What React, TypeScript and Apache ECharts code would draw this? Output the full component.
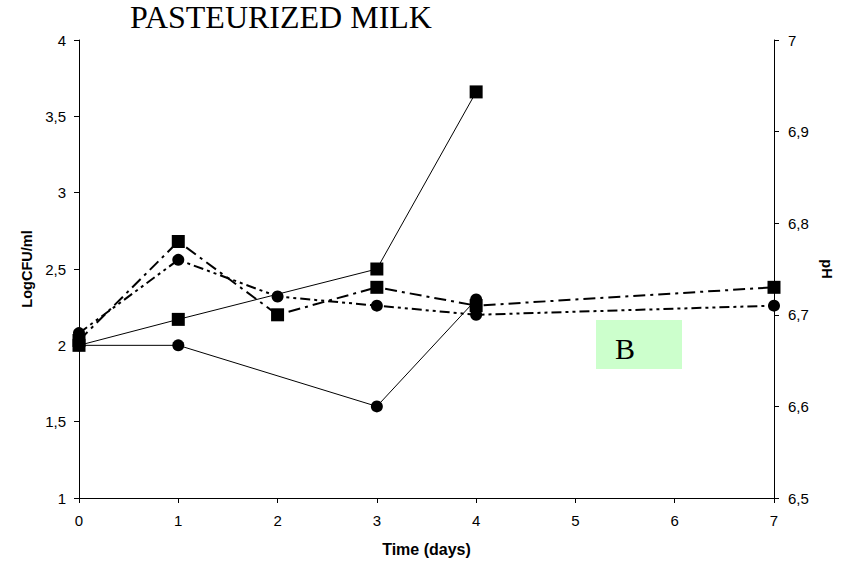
import React, { useEffect, useRef } from "react";
import * as echarts from "echarts";

// Microbial counts (LogCFU/ml) on the left axis
const countDays = [0, 1, 3, 4];
const countSquares = [2.0, 2.17, 2.5, 3.66];
const countCircles = [2.0, 2.0, 1.6, 2.3];

// pH readings on the right axis
const phDays = [0, 1, 2, 3, 4, 7];
const phSquares = [6.672, 6.78, 6.7, 6.73, 6.71, 6.73];
const phCircles = [6.68, 6.76, 6.72, 6.71, 6.7, 6.71];

const pairs = (xs: number[], ys: number[]) => xs.map((x, i) => [x, ys[i]]);
const comma = (v: number) => String(Math.round(v * 10) / 10).replace(".", ",");

const sans = "'Liberation Sans', Arial, sans-serif";
const serif = "'Liberation Serif', 'Times New Roman', serif";

export default function App() {
  const ref = useRef<HTMLDivElement>(null);

  useEffect(() => {
    if (!ref.current) return;
    const chart = echarts.init(ref.current, undefined, { renderer: "svg" });
    const axisLine = { show: true, lineStyle: { color: "#000", width: 1 } };
    const axisTick = { show: true, length: 5, lineStyle: { color: "#000" } };
    const axisLabel = { color: "#000", fontFamily: sans, fontSize: 15 };
    const nameStyle = { fontFamily: sans, fontWeight: "bold", color: "#000" };
    chart.setOption({
      animation: false,
      backgroundColor: "#fff",
      title: {
        text: "PASTEURIZED MILK",
        left: 281,
        top: 2,
        padding: 0,
        textAlign: "center",
        textStyle: {
          fontFamily: serif,
          fontSize: 32,
          lineHeight: 30,
          fontWeight: "normal",
          color: "#000",
        },
      },
      grid: { left: 79, right: 77, top: 40, bottom: 65 },
      xAxis: {
        type: "value",
        min: 0,
        max: 7,
        interval: 1,
        name: "Time (days)",
        nameLocation: "middle",
        nameGap: 43,
        nameTextStyle: { ...nameStyle, fontSize: 16 },
        axisLine,
        axisTick,
        axisLabel: { ...axisLabel, margin: 15 },
        splitLine: { show: false },
      },
      yAxis: [
        {
          type: "value",
          min: 1,
          max: 4,
          interval: 0.5,
          position: "left",
          name: "LogCFU/ml",
          nameLocation: "middle",
          nameRotate: 90,
          nameGap: 31,
          nameTextStyle: { ...nameStyle, fontSize: 14.5 },
          axisLine,
          axisTick,
          axisLabel: { ...axisLabel, margin: 13, formatter: comma },
          splitLine: { show: false },
        },
        {
          type: "value",
          min: 6.5,
          max: 7,
          interval: 0.1,
          position: "right",
          name: "pH",
          nameLocation: "middle",
          nameRotate: -90,
          nameGap: 44,
          nameTextStyle: { ...nameStyle, fontSize: 14.5 },
          axisLine,
          axisTick,
          axisLabel: { ...axisLabel, margin: 14, formatter: comma },
          splitLine: { show: false },
        },
      ],
      series: [
        {
          type: "line",
          yAxisIndex: 0,
          data: pairs(countDays, countSquares),
          symbol: "rect",
          symbolSize: 13,
          lineStyle: { color: "#000", width: 1 },
          itemStyle: { color: "#000" },
        },
        {
          type: "line",
          yAxisIndex: 0,
          data: pairs(countDays, countCircles),
          symbol: "circle",
          symbolSize: 12,
          lineStyle: { color: "#000", width: 1 },
          itemStyle: { color: "#000" },
        },
        {
          type: "line",
          yAxisIndex: 1,
          data: pairs(phDays, phSquares),
          symbol: "rect",
          symbolSize: 13,
          lineStyle: { color: "#000", width: 2, type: [12, 5, 3, 5] },
          itemStyle: { color: "#000" },
        },
        {
          type: "line",
          yAxisIndex: 1,
          data: pairs(phDays, phCircles),
          symbol: "circle",
          symbolSize: 12,
          lineStyle: { color: "#000", width: 2, type: [10, 4, 3, 4, 3, 4] },
          itemStyle: { color: "#000" },
        },
      ],
      graphic: [
        {
          type: "rect",
          shape: { x: 596, y: 320, width: 86, height: 49 },
          style: { fill: "#ccffcc" },
          z: 1,
        },
        {
          type: "text",
          x: 625,
          y: 348,
          style: {
            text: "B",
            fontFamily: serif,
            fontSize: 30,
            fill: "#000",
            align: "center",
            verticalAlign: "middle",
          },
          z: 2,
        },
      ],
    });
    return () => chart.dispose();
  }, []);

  return (
    <div
      ref={ref}
      style={{ position: "absolute", left: 0, top: 0, width: 851, height: 563 }}
    />
  );
}
